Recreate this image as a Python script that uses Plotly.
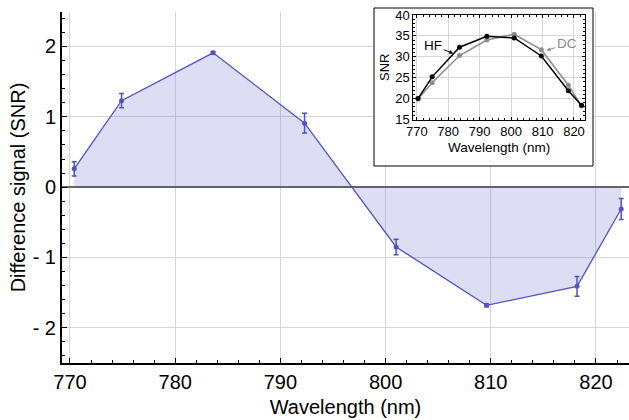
import plotly.graph_objects as go

# ---- data ----
wavelength = [770.4, 774.9, 783.6, 792.3, 801.0, 809.6, 818.2, 822.4]
diff_signal = [0.26, 1.23, 1.91, 0.91, -0.85, -1.68, -1.41, -0.31]
diff_err = [0.10, 0.10, 0.02, 0.14, 0.11, 0.02, 0.14, 0.15]

snr_hf = [20.0, 25.2, 32.3, 34.9, 34.5, 30.2, 21.9, 18.4]
snr_dc = [19.9, 23.8, 30.3, 34.0, 35.4, 31.7, 23.2, 18.2]

y_tickvals = [-2, -1, 0, 1, 2]
y_ticktext = ["- 2", "- 1", "0", "1", "2"]

W, H = 629, 420
ML, MR, MT, MB = 62, 0, 12, 57
XR = [769.24, 823.14]
YR = [-2.5, 2.49]

FONT = "Liberation Sans, Arial, sans-serif"
LINE = "rgb(82,82,196)"

fig = go.Figure()

fig.add_trace(go.Scatter(
    x=wavelength, y=diff_signal,
    mode="lines+markers",
    line=dict(color=LINE, width=1.3),
    marker=dict(color=LINE, size=5),
    fill="tozeroy", fillcolor="rgba(85,85,200,0.2)",
    error_y=dict(type="data", array=diff_err, color=LINE, thickness=1.5, width=2.5),
    xaxis="x", yaxis="y", showlegend=False,
))

fig.add_trace(go.Scatter(
    x=wavelength, y=snr_dc, mode="lines+markers",
    line=dict(color="rgb(140,140,140)", width=1.5),
    marker=dict(color="rgb(140,140,140)", size=5),
    xaxis="x2", yaxis="y2", showlegend=False,
))
fig.add_trace(go.Scatter(
    x=wavelength, y=snr_hf, mode="lines+markers",
    line=dict(color="black", width=1.5),
    marker=dict(color="black", size=5),
    xaxis="x2", yaxis="y2", showlegend=False,
))

# inset box (paper pixels)
bx0, bx1, by0, by1 = 374, 593, 8, 166
pw, ph = W - ML - MR, H - MT - MB
def px2x(px):
    return XR[0] + (px - ML) / pw * (XR[1] - XR[0])
def py2y(py):
    return YR[1] - (py - MT) / ph * (YR[1] - YR[0])

shapes = [
    dict(type="rect", xref="x", yref="y", layer="between",
         x0=px2x(bx0), x1=px2x(bx1), y0=py2y(by1), y1=py2y(by0) + 0.2,
         fillcolor="white", line=dict(width=0)),
    dict(type="rect", xref="paper", yref="paper", layer="above",
         x0=(bx0 - ML) / pw, x1=(bx1 - ML) / pw,
         y0=(H - MB - by1) / ph, y1=(H - MB - by0) / ph,
         line=dict(color="black", width=1), fillcolor="rgba(0,0,0,0)"),
]

ix0, ix1, iy0, iy1 = 413.3, 585, 15, 119.5

fig.update_layout(
    width=W, height=H,
    margin=dict(l=ML, r=MR, t=MT, b=MB),
    paper_bgcolor="white", plot_bgcolor="white",
    font=dict(family=FONT, color="black"),
    shapes=shapes,
    xaxis=dict(
        domain=[0, 1], range=XR, anchor="y",
        tickvals=[770, 780, 790, 800, 810, 820],
        ticks="inside", ticklen=5, tickwidth=1, tickcolor="black",
        minor=dict(dtick=2, tick0=770, ticks="inside", ticklen=3, tickcolor="black", showgrid=False),
        showline=True, linecolor="black", linewidth=2,
        showgrid=True, gridcolor="rgb(215,215,215)", gridwidth=1,
        zeroline=False,
        tickfont=dict(size=20),
        title=dict(text="Wavelength (nm)", font=dict(size=20), standoff=8),
    ),
    yaxis=dict(
        domain=[0, 1], range=YR, anchor="x",
        tickvals=y_tickvals, ticktext=y_ticktext,
        ticks="inside", ticklen=5, tickwidth=1, tickcolor="black",
        minor=dict(dtick=0.2, tick0=0, ticks="inside", ticklen=3, tickcolor="black", showgrid=False),
        showline=True, linecolor="black", linewidth=2,
        showgrid=True, gridcolor="rgb(215,215,215)", gridwidth=1,
        zeroline=True, zerolinecolor="rgb(100,100,100)", zerolinewidth=2,
        tickfont=dict(size=20),
        title=dict(text="Difference signal (SNR)", font=dict(size=20), standoff=2),
    ),
    xaxis2=dict(
        domain=[(ix0 - ML) / pw, (ix1 - ML) / pw], range=[768.9, 823.5], anchor="y2",
        tickvals=[770, 780, 790, 800, 810, 820],
        ticks="inside", ticklen=3, tickcolor="black",
        minor=dict(dtick=2, tick0=770, ticks="inside", ticklen=2, tickcolor="black", showgrid=False),
        showline=True, mirror="ticks", linecolor="black", linewidth=1,
        showgrid=True, gridcolor="rgb(215,215,215)", zeroline=False,
        tickfont=dict(size=13),
        title=dict(text="Wavelength (nm)", font=dict(size=13.5), standoff=4),
    ),
    yaxis2=dict(
        domain=[(H - MB - iy1) / ph, (H - MB - iy0) / ph], range=[15, 40], anchor="x2",
        tickvals=[15, 20, 25, 30, 35, 40],
        ticks="inside", ticklen=3, tickcolor="black",
        minor=dict(dtick=1, tick0=15, ticks="inside", ticklen=2, tickcolor="black", showgrid=False),
        showline=True, mirror="ticks", linecolor="black", linewidth=1,
        showgrid=True, gridcolor="rgb(215,215,215)", zeroline=False,
        tickfont=dict(size=13),
        title=dict(text="SNR", font=dict(size=13), standoff=2),
    ),
    annotations=[
        dict(text="HF", x=781.6, y=30.8, xref="x2", yref="y2",
             ax=-20, ay=-8, showarrow=True, arrowhead=2, arrowsize=0.8,
             arrowwidth=1, arrowcolor="black", font=dict(size=13.5, color="black")),
        dict(text="DC", x=811.3, y=31.5, xref="x2", yref="y2",
             ax=20, ay=-7, showarrow=True, arrowhead=2, arrowsize=0.8,
             arrowwidth=1, arrowcolor="rgb(140,140,140)",
             font=dict(size=13.5, color="rgb(140,140,140)")),
    ],
)

fig.write_html("out.html",
               config={"displayModeBar": False},
               post_script="document.body.style.margin='0px';document.body.style.overflow='hidden';")
